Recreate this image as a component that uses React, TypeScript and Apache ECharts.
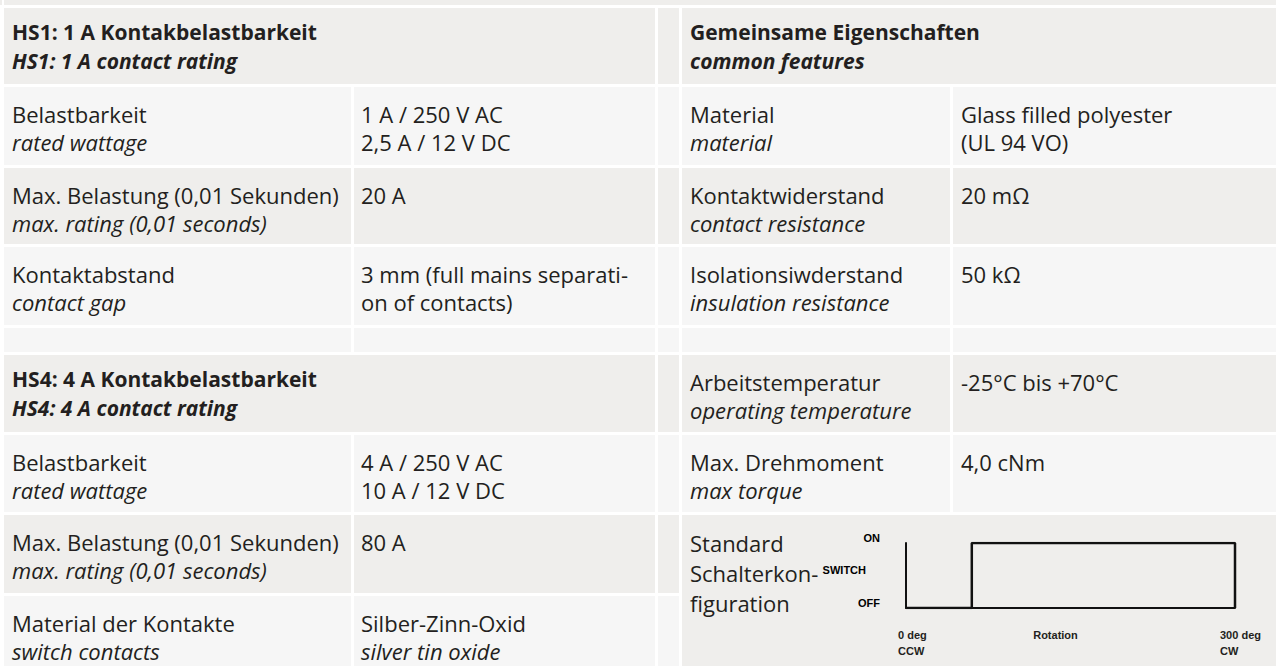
import React, { useEffect, useRef } from "react";
import * as echarts from "echarts";

// ---- table content ----
const hs1Title = ["HS1: 1 A Kontakbelastbarkeit", "HS1: 1 A contact rating"];
const hs1LabelsDe = ["Belastbarkeit", "Max. Belastung (0,01 Sekunden)", "Kontaktabstand"];
const hs1LabelsEn = ["rated wattage", "max. rating (0,01 seconds)", "contact gap"];
const hs1Values = [["1 A / 250 V AC", "2,5 A / 12 V DC"], ["20 A"], ["3 mm (full mains separati-", "on of contacts)"]];
const hs1ValueItalic2 = [false, false, false];

const hs4Title = ["HS4: 4 A Kontakbelastbarkeit", "HS4: 4 A contact rating"];
const hs4LabelsDe = ["Belastbarkeit", "Max. Belastung (0,01 Sekunden)", "Material der Kontakte"];
const hs4LabelsEn = ["rated wattage", "max. rating (0,01 seconds)", "switch contacts"];
const hs4Values = [["4 A / 250 V AC", "10 A / 12 V DC"], ["80 A"], ["Silber-Zinn-Oxid", "silver tin oxide"]];
const hs4ValueItalic2 = [false, false, true];

const commonTitle = ["Gemeinsame Eigenschaften", "common features"];
const commonLabelsDe = ["Material", "Kontaktwiderstand", "Isolationsiwderstand", "", "Arbeitstemperatur", "Max. Drehmoment"];
const commonLabelsEn = ["material", "contact resistance", "insulation resistance", "", "operating temperature", "max torque"];
const commonValues = [["Glass filled polyester", "(UL 94 VO)"], ["20 mΩ"], ["50 kΩ"], [], ["-25°C bis +70°C"], ["4,0 cNm"]];
const standardLabel = ["Standard", "Schalterkon-", "figuration"];

// ---- switch diagram data ----
const rotationDeg = [0, 60, 60, 300, 300];
const switchState = [0, 0, 1, 1, 0];
const yTickValues = [0, 0.5, 1];
const yTickLabels = ["OFF", "SWITCH", "ON"];
const xTickValues = [0, 150, 300];
const xTickLabels = [["0 deg", "CCW"], ["Rotation"], ["300 deg", "CW"]];

// ---- layout ----
const DARK = "#efeeec";
const LIGHT = "#f6f6f6";
const TXT = "#231f20";
const FONT = "'Open Sans'";
const FS = 22;
const FS_BOLD = 21;
const COL = {
  lLabel: [4, 351],
  lValue: [354, 655],
  spacer: [658, 679],
  rLabel: [682, 950],
  rValue: [953, 1276],
};
const ROWS = [
  [8, 84], [87, 165], [168, 244], [247, 325], [328, 352],
  [355, 432], [435, 512], [515, 593], [596, 666],
];
const ROW_DARK = [true, false, true, false, false, true, false, true, false];
const L1 = 27;
const L2 = 55;
const H1 = 24;
const H2 = 53;

function rect(x0: number, x1: number, y0: number, y1: number, fill: string) {
  return { type: "rect", z: -10, silent: true, shape: { x: x0, y: y0, width: x1 - x0, height: y1 - y0 }, style: { fill } };
}
function txt(text: string, x: number, y: number, opts: { bold?: boolean; italic?: boolean; size?: number; family?: string; align?: string } = {}) {
  const size = opts.size ?? (opts.bold ? FS_BOLD : FS);
  const font = `${opts.italic ? "italic " : ""}${opts.bold ? "bold " : ""}${size}px ${opts.family ?? FONT}`;
  return {
    type: "text", z: 100, silent: true, x, y,
    style: { text, font, fill: TXT, textAlign: opts.align ?? "left", textVerticalAlign: "middle" },
  };
}

function buildTable() {
  const els: any[] = [];
  els.push(rect(0, 2, 0, 5, DARK));
  els.push(rect(4, 1276, 0, 5, DARK));
  ROWS.forEach(([t, b], i) => {
    const fill = ROW_DARK[i] ? DARK : LIGHT;
    if (i === 0 || i === 5) {
      els.push(rect(COL.lLabel[0], COL.lValue[1], t, b, fill));
    } else {
      els.push(rect(COL.lLabel[0], COL.lLabel[1], t, b, fill));
      els.push(rect(COL.lValue[0], COL.lValue[1], t, b, fill));
    }
    els.push(rect(COL.spacer[0], COL.spacer[1], t, b, fill));
    if (i === 0) {
      els.push(rect(COL.rLabel[0], COL.rValue[1], t, b, fill));
    } else if (i < 7) {
      els.push(rect(COL.rLabel[0], COL.rLabel[1], t, b, fill));
      els.push(rect(COL.rValue[0], COL.rValue[1], t, b, fill));
    } else if (i === 7) {
      els.push(rect(COL.rLabel[0], COL.rValue[1], t, ROWS[8][1], fill));
    }
  });

  const lx = COL.lLabel[0] + 8;
  const vx = COL.lValue[0] + 7;
  const rx = COL.rLabel[0] + 8;
  const rvx = COL.rValue[0] + 8;

  const block = (title: string[], de: string[], en: string[], vals: string[][], it2: boolean[], headRow: number) => {
    const ht = ROWS[headRow][0];
    els.push(txt(title[0], lx, ht + H1, { bold: true }));
    els.push(txt(title[1], lx, ht + H2, { bold: true, italic: true }));
    de.forEach((d, k) => {
      const top = ROWS[headRow + 1 + k][0];
      els.push(txt(d, lx, top + L1));
      els.push(txt(en[k], lx, top + L2, { italic: true }));
      vals[k].forEach((v, j) => {
        els.push(txt(v, vx, top + (j === 0 ? L1 : L2), { italic: j === 1 && it2[k] }));
      });
    });
  };
  block(hs1Title, hs1LabelsDe, hs1LabelsEn, hs1Values, hs1ValueItalic2, 0);
  block(hs4Title, hs4LabelsDe, hs4LabelsEn, hs4Values, hs4ValueItalic2, 5);

  els.push(txt(commonTitle[0], rx, ROWS[0][0] + H1, { bold: true }));
  els.push(txt(commonTitle[1], rx, ROWS[0][0] + H2, { bold: true, italic: true }));
  commonLabelsDe.forEach((d, k) => {
    const top = ROWS[1 + k][0];
    if (d) els.push(txt(d, rx, top + L1));
    if (commonLabelsEn[k]) els.push(txt(commonLabelsEn[k], rx, top + L2, { italic: true }));
    commonValues[k].forEach((v, j) => els.push(txt(v, rvx, top + (j === 0 ? L1 : L2))));
  });
  standardLabel.forEach((s, j) => els.push(txt(s, rx, ROWS[7][0] + 28 + j * 30)));
  return els;
}

export default function App() {
  const ref = useRef<HTMLDivElement>(null);
  useEffect(() => {
    document.body.style.margin = "0";
    const chart = echarts.init(ref.current!, null, { renderer: "svg" });
    const tickFont = { fontFamily: "Liberation Sans", fontWeight: "bold" as const, fontSize: 11, color: "#000" };
    chart.setOption({
      animation: false,
      backgroundColor: "#ffffff",
      grid: { left: 906, right: 41, top: 543, bottom: 58, containLabel: false },
      xAxis: {
        type: "value", min: 0, max: 300, interval: 150,
        axisLine: { show: true, lineStyle: { color: "#111", width: 2 } },
        axisTick: { show: false }, axisLabel: { show: false }, splitLine: { show: false },
      },
      yAxis: {
        type: "value", min: 0, max: 1, interval: 0.5,
        axisLine: { show: true, lineStyle: { color: "#111", width: 2 } },
        axisTick: { show: false }, splitLine: { show: false },
        axisLabel: {
          ...tickFont, margin: 26, align: "right", verticalAlign: "bottom",
          formatter: (v: number) => {
            const i = yTickValues.indexOf(v);
            if (i < 0) return "";
            return i === 1 ? `{s|${yTickLabels[i]}}` : `{n|${yTickLabels[i]}}`;
          },
          rich: {
            n: { ...tickFont },
            s: { ...tickFont, padding: [0, 14, 0, 0] },
          },
        },
      },
      series: [{
        type: "line", data: rotationDeg.map((r, i) => [r, switchState[i]]),
        showSymbol: false, lineStyle: { color: "#111", width: 2.5 }, z: 5,
      }],
    });
    const els = buildTable();
    const offsets = [[-8, "left"], [-15, "center"], [-15, "left"]] as const;
    xTickValues.forEach((v, i) => {
      const p = chart.convertToPixel({ gridIndex: 0 }, [v, 0]) as number[];
      xTickLabels[i].forEach((line, j) => {
        els.push(txt(line, p[0] + offsets[i][0], p[1] + 27 + j * 16, { bold: true, size: 11, family: "Liberation Sans", align: offsets[i][1] }));
      });
    });
    chart.setOption({ graphic: { elements: els } });
    return () => chart.dispose();
  }, []);
  return <div ref={ref} style={{ width: 1276, height: 666 }} />;
}
